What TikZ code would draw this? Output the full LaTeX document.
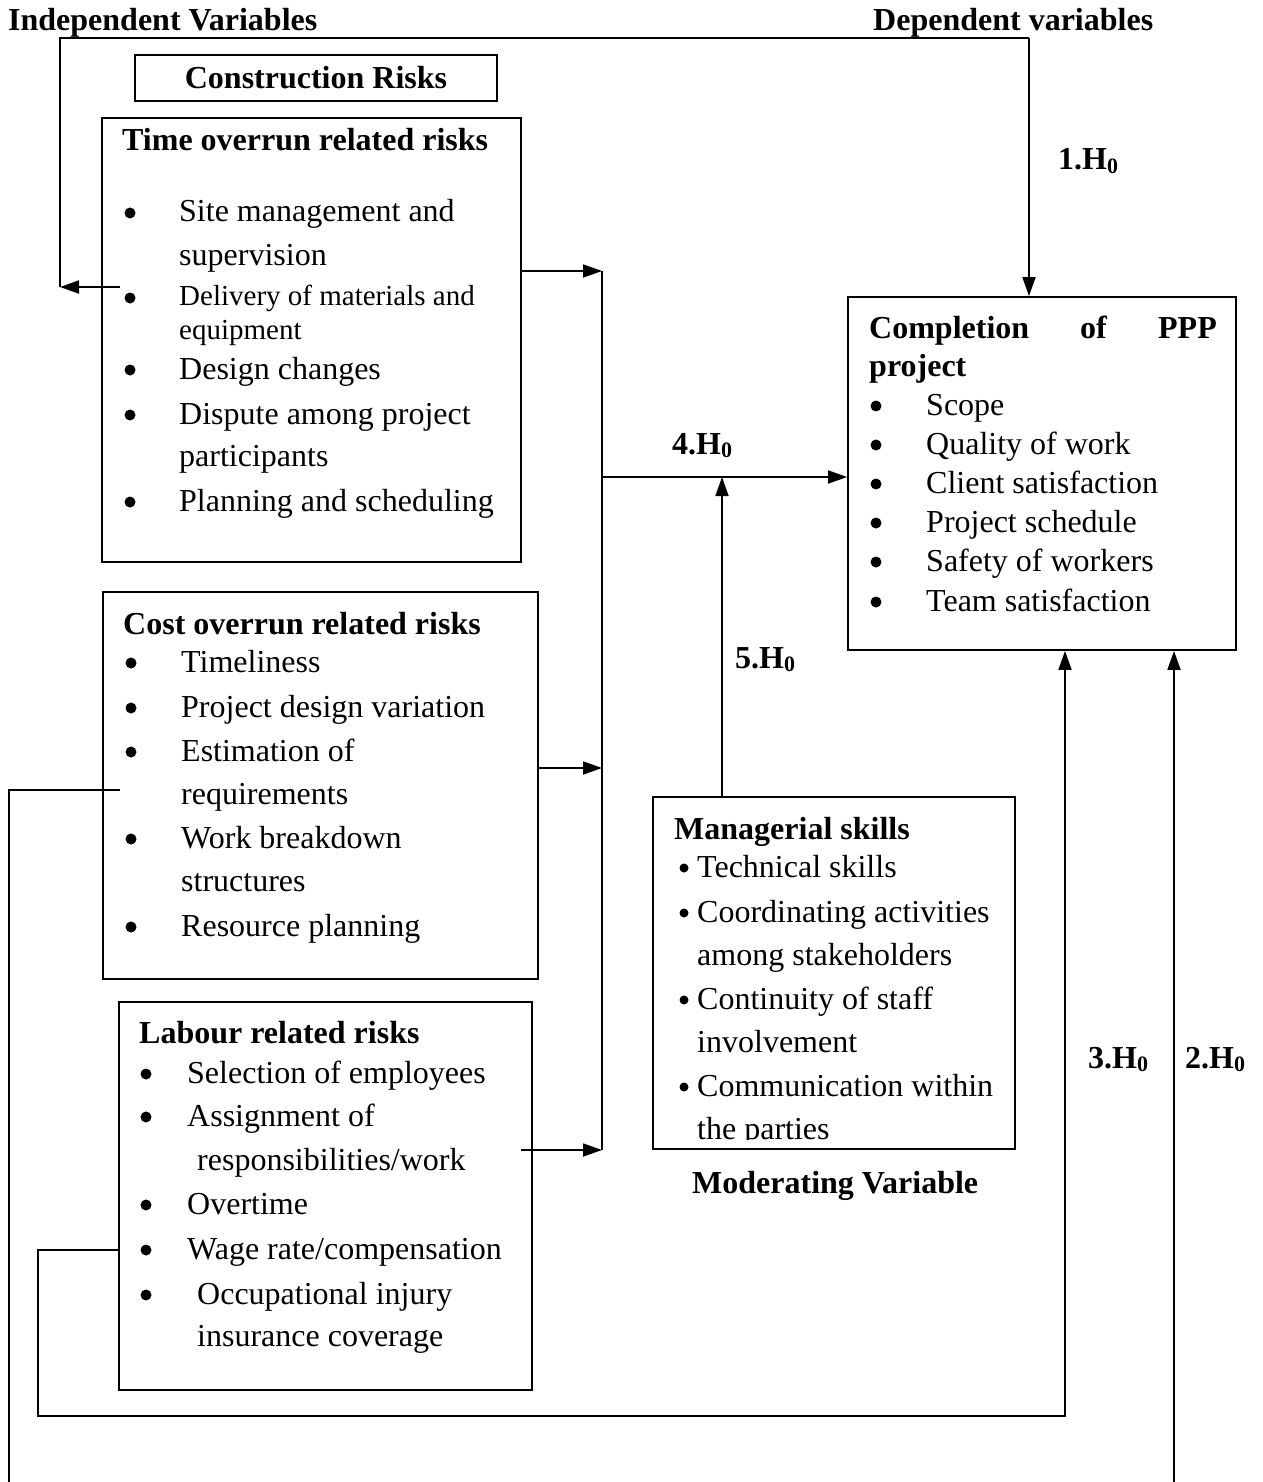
\documentclass[tikz,border=0pt]{standalone}
\usepackage{fontspec}
\setmainfont{Liberation Serif}
\usetikzlibrary{arrows.meta}
\newcommand{\hz}[1]{\textbf{#1.H}\raisebox{-0.12em}{\fontsize{22}{22}\selectfont\textbf{0}}}
\begin{document}
\begin{tikzpicture}[x=1pt,y=-1pt,
  box/.style={draw, line width=1.8pt, inner sep=0pt, rectangle},
  txt/.style={anchor=base west, inner sep=0pt, font=\fontsize{32}{38}\selectfont},
  sml/.style={anchor=base west, inner sep=0pt, font=\fontsize{29}{34}\selectfont},
  hd/.style={anchor=base west, inner sep=0pt, font=\fontsize{32}{38}\selectfont\bfseries},
  lab/.style={anchor=base west, inner sep=0pt, font=\fontsize{32}{38}\selectfont},
  dot/.style={circle, fill, inner sep=0pt, minimum size=11pt},
  sdot/.style={circle, fill, inner sep=0pt, minimum size=9pt},
  conn/.style={line width=1.8pt},
  arr/.style={line width=1.8pt, -{Triangle[length=19pt,width=13pt]}}]
\useasboundingbox (0,0) rectangle (1262,1482);

% headers
\node[hd] (indep) at (8,31) {Independent Variables};
\node[hd] (dep) at (873,31) {Dependent variables};

% construction risks
\node[box, minimum width=362pt, minimum height=46pt] (cons) at (316,78) {};
\node[hd, anchor=base] (consT) at (316,89) {Construction Risks};

% time overrun box
\node[box, minimum width=419pt, minimum height=444pt] (time) at (311.5,340) {};
\node[hd] (timeH) at (122,151) {Time overrun related risks};
\foreach \y/\t [count=\i] in {222/{Site management and}, 265/{supervision}, 379/{Design changes}, 424/{Dispute among project}, 466/{participants}, 511/{Planning and scheduling}}{
  \node[txt] (timeT\i) at (179,\y) {\t};}
\node[sml] (timeD1) at (179,305) {Delivery of materials and};
\node[sml] (timeD2) at (179,339) {equipment};
\foreach \y [count=\i] in {222,307,379,424,511}{
  \node[dot] (timeB\i) at (130,\y-9) {};}

% cost overrun box
\node[box, minimum width=435pt, minimum height=387pt] (cost) at (320.5,785.5) {};
\node[hd] (costH) at (123,634) {Cost overrun related risks};
\foreach \y/\t [count=\i] in {672/{Timeliness}, 717/{Project design variation}, 761/{Estimation of}, 804/{requirements}, 848/{Work breakdown}, 891/{structures}, 936/{Resource planning}}{
  \node[txt] (costT\i) at (181,\y) {\t};}
\foreach \y [count=\i] in {672,717,761,848,936}{
  \node[dot] (costB\i) at (131,\y-9) {};}

% labour box
\node[box, minimum width=413pt, minimum height=388pt] (lab) at (325.5,1196) {};
\node[hd] (labH) at (139,1043) {Labour related risks};
\foreach \y/\t [count=\i] in {1083/{Selection of employees}, 1126/{Assignment of}, 1214/{Overtime}, 1259/{Wage rate/compensation}}{
  \node[txt] (labT\i) at (187,\y) {\t};}
\foreach \y/\t [count=\i] in {1170/{responsibilities/work}, 1304/{Occupational injury}, 1346/{insurance coverage}}{
  \node[txt] (labU\i) at (197,\y) {\t};}
\foreach \y [count=\i] in {1083,1126,1214,1259,1304}{
  \node[dot] (labB\i) at (146,\y-9) {};}

% completion box
\node[box, minimum width=388pt, minimum height=353pt] (comp) at (1042,473.5) {};
\node[hd] (compH1) at (869,338) {Completion};
\node[hd] (compH2) at (1080,338) {of};
\node[hd, anchor=base east] (compH3) at (1217,338) {PPP};
\node[hd] (compH4) at (869,376) {project};
\foreach \y/\t [count=\i] in {415/{Scope}, 454/{Quality of work}, 493/{Client satisfaction}, 532/{Project schedule}, 571/{Safety of workers}, 611/{Team satisfaction}}{
  \node[txt] (compT\i) at (926,\y) {\t};
  \node[dot] (compB\i) at (876,\y-9) {};}

% managerial box
\node[box, minimum width=362pt, minimum height=352pt] (mgr) at (834,973) {};
\node[hd] (mgrH) at (674,839) {Managerial skills};
\begin{scope}
\clip (656,800) rectangle (1012,1139);
\foreach \y/\t [count=\i] in {877/{Technical skills}, 922/{Coordinating activities}, 965/{among stakeholders}, 1009/{Continuity of staff}, 1052/{involvement}, 1096/{Communication within}, 1139/{the parties}}{
  \node[txt] (mgrT\i) at (697,\y) {\t};}
\end{scope}
\foreach \y [count=\i] in {877,922,1009,1096}{
  \node[sdot] (mgrB\i) at (684,\y-9) {};}
\node[hd] (modv) at (692,1193) {Moderating Variable};

% hypothesis labels
\node[lab] (h1) at (1058,170) {\hz{1}};
\node[lab] (h4) at (672,454) {\hz{4}};
\node[lab] (h5) at (735,668) {\hz{5}};
\node[lab] (h3) at (1088,1068) {\hz{3}};
\node[lab] (h2) at (1185,1068) {\hz{2}};

% coordinates
\coordinate (tl) at (60,38);
\coordinate (tr) at (1029,38);
\coordinate (ta) at (120,287);
\coordinate (bus1) at (602,271);
\coordinate (bus2) at (602,768);
\coordinate (bus3) at (602,1150);
\coordinate (bus4) at (602,477);
\coordinate (ts) at (521,271);
\coordinate (cs) at (537,768);
\coordinate (ls) at (521,1150);
\coordinate (ms) at (722,797);
\coordinate (mt) at (722,477);
\coordinate (cl) at (120,790);
\coordinate (clc) at (9,790);
\coordinate (cle) at (9,1482);
\coordinate (lb) at (119,1250);
\coordinate (lb1) at (38,1250);
\coordinate (lb2) at (38,1416);
\coordinate (lb3) at (1065,1416);
\coordinate (r2) at (1174,1482);

% connectors
\draw[conn] (tr) -- (tl) -- (tl |- ta);
\draw[arr] (ta) -- (tl |- ta);
\draw[arr] (tr) -- (tr |- comp.north);
\draw[arr] (ts) -- (bus1);
\draw[arr] (cs) -- (bus2);
\draw[arr] (ls) -- (bus3);
\draw[conn] (bus1) -- (bus3);
\draw[arr] (bus4) -- (bus4 -| comp.west);
\draw[arr] (ms) -- (mt);
\draw[conn] (cl) -- (clc) -- (cle);
\draw[arr] (lb) -- (lb1) -- (lb2) -- (lb3) -- (lb3 |- comp.south);
\draw[arr] (r2) -- (r2 |- comp.south);
\end{tikzpicture}
\end{document}
